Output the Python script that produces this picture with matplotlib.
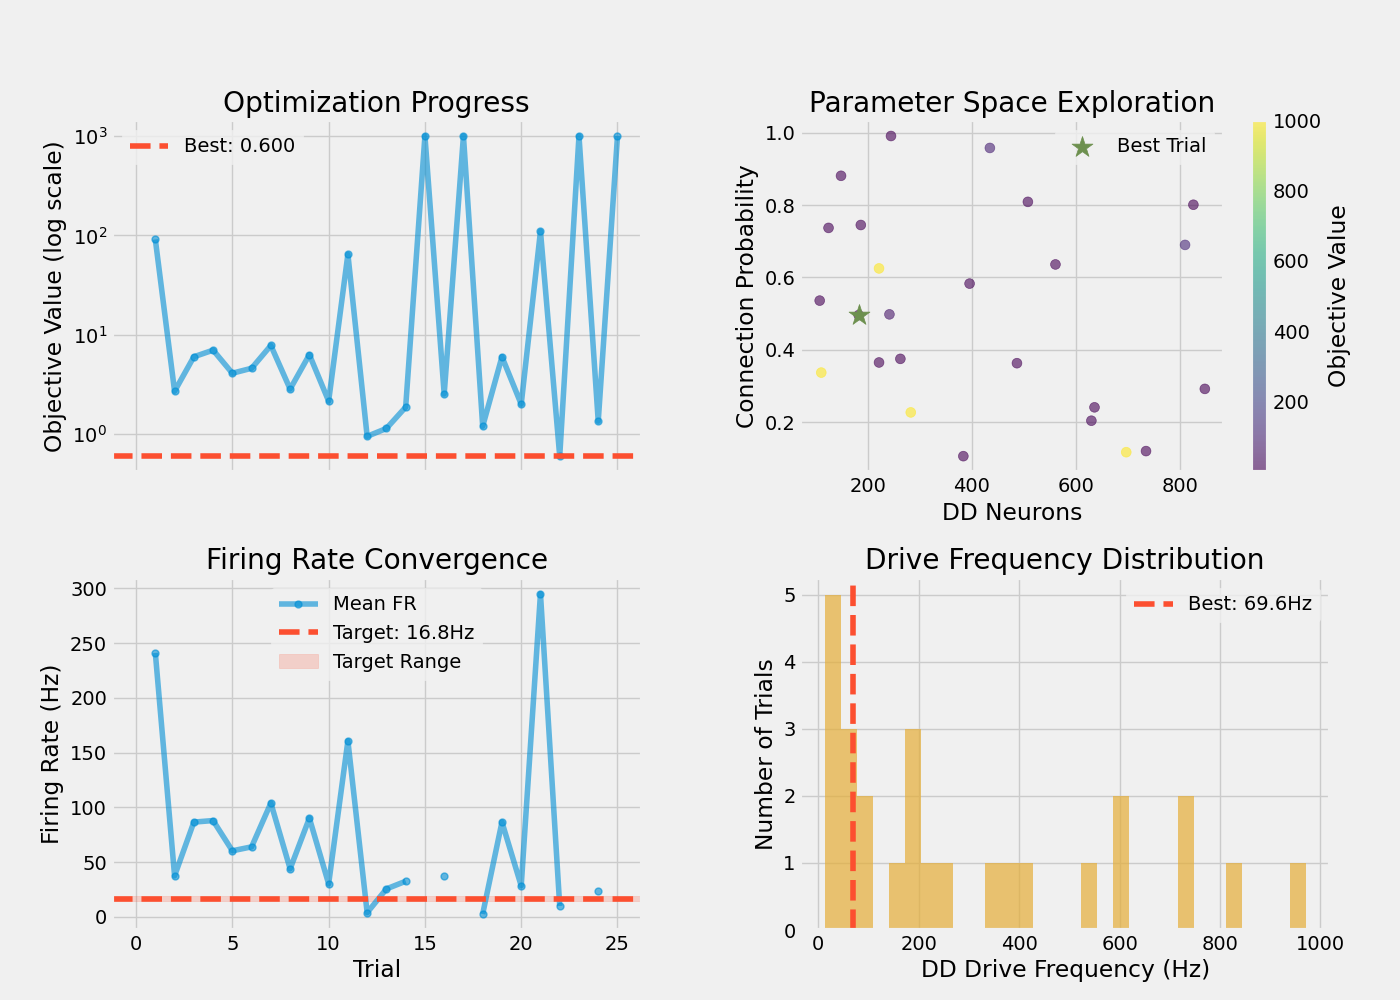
import numpy as np
import matplotlib
matplotlib.use('Agg')
import matplotlib.pyplot as plt

plt.style.use('fivethirtyeight')
# 범례 테두리는 배경색과 같게
plt.rcParams['legend.edgecolor'] = '#f0f0f0'

# 시행 번호와 목적함수 값
trials = np.arange(1, 26)
objective = [91, 2.7, 6.0, 7.0, 4.1, 4.6, 7.8, 2.84, 6.3, 2.15,
             64.5, 0.95, 1.14, 1.87, 1000, 2.53, 1000, 1.2, 6.0, 2.0,
             110, 0.6, 1000, 1.35, 1000]

# 평균 발화율 (실패한 시행은 nan)
mean_fr = [241, 37.5, 86.6, 88, 60.4, 64, 104, 43.9, 90.2, 30.2,
           160.7, 3.9, 25.6, 32.6, np.nan, 37.5, np.nan, 2.7, 86.6, 28.4,
           295, 10, np.nan, 23.8, np.nan]
target_fr = 16.8
target_low = 14.3
target_high = 19.3

# 파라미터 공간
dd_neurons = [435, 245, 149, 508, 826, 125, 187, 561, 396, 108,
              242, 222, 263, 487, 222, 848, 111, 636, 630, 384,
              810, 183, 283, 735, 697]
conn_prob = [0.958, 0.991, 0.881, 0.809, 0.801, 0.737, 0.745, 0.636, 0.583, 0.536,
             0.498, 0.365, 0.375, 0.363, 0.625, 0.292, 0.337, 0.241, 0.204, 0.106,
             0.690, 0.496, 0.227, 0.120, 0.117]

# 구동 주파수
drive_freq = [12.6, 20, 28, 35, 42, 55, 69.6, 74, 85, 100,
              158, 178, 190, 199, 221, 250, 345, 381, 410, 540,
              598, 610, 725, 738, 828, 971]
best_freq = 69.6

best_idx = int(np.argmin(objective))
best_val = objective[best_idx]

fig, axes = plt.subplots(2, 2, figsize=(14, 10))
plt.subplots_adjust(hspace=0.3, wspace=0.3)
ax1, ax2, ax3, ax4 = axes.flatten()

# 1) 최적화 진행
ax1.plot(trials, objective, 'o-', alpha=0.6, markersize=5)
ax1.axhline(best_val, color='#fc4f30', linestyle='--', label='Best: %.3f' % best_val)
ax1.set_yscale('log')
ax1.set_ylabel('Objective Value (log scale)')
ax1.set_title('Optimization Progress')
ax1.set_xlim(-1.25, 26.25)
ax1.tick_params(labelbottom=False)
ax1.legend(loc='upper left')

# 2) 파라미터 공간 탐색
sc = ax2.scatter(dd_neurons, conn_prob, c=objective, cmap='viridis', alpha=0.6, s=50)
ax2.scatter(dd_neurons[best_idx], conn_prob[best_idx], marker='*', s=250,
            color='#6d904f', label='Best Trial')
cbar = plt.colorbar(sc, ax=ax2)
cbar.set_label('Objective Value')
ax2.set_xlabel('DD Neurons')
ax2.set_ylabel('Connection Probability')
ax2.set_title('Parameter Space Exploration')
ax2.legend(loc='upper right')

# 3) 발화율 수렴
ax3.plot(trials, mean_fr, 'o-', alpha=0.6, markersize=5, label='Mean FR')
ax3.axhline(target_fr, color='#fc4f30', linestyle='--', label='Target: %.1fHz' % target_fr)
ax3.axhspan(target_low, target_high, color='#fc4f30', alpha=0.2, label='Target Range')
ax3.set_xlim(-1.25, 26.25)
ax3.set_xlabel('Trial')
ax3.set_ylabel('Firing Rate (Hz)')
ax3.set_title('Firing Rate Convergence')
ax3.legend(loc='upper center')

# 4) 구동 주파수 분포
ax4.hist(drive_freq, bins=30, color='#e5ae38', alpha=0.7)
ax4.axvline(best_freq, color='#fc4f30', linestyle='--', label='Best: %.1fHz' % best_freq)
ax4.set_xlabel('DD Drive Frequency (Hz)')
ax4.set_ylabel('Number of Trials')
ax4.set_title('Drive Frequency Distribution')
ax4.legend(loc='upper right')

plt.savefig('out.png', dpi=100)
